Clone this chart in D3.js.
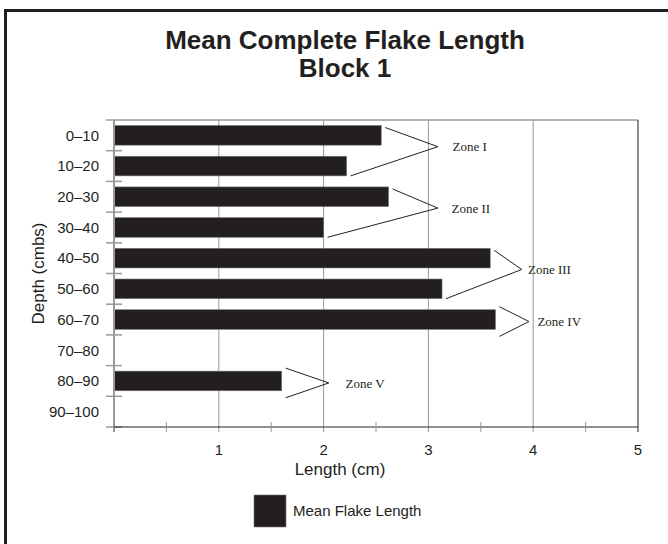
<!DOCTYPE html>
<html>
<head>
<meta charset="utf-8">
<script src="https://cdn.jsdelivr.net/npm/d3@7"></script>
<style>
  body { margin: 0; background: #fff; }
  text { font-family: "Liberation Sans", Arial, sans-serif; fill: #231f20; }
</style>
</head>
<body>
<div id="canvas"></div>
<script>
const depths = ["0–10", "10–20", "20–30", "30–40", "40–50", "50–60", "60–70", "70–80", "80–90", "90–100"];
const meanLength = [2.55, 2.22, 2.62, 2.00, 3.59, 3.13, 3.64, null, 1.60, null];
const xTicks = [1, 2, 3, 4, 5];
const minorTicks = [0.5, 1.5, 2.5, 3.5, 4.5];
const zoneNames = ["Zone I", "Zone II", "Zone III", "Zone IV", "Zone V"];
const zoneFrom = ["0–10", "20–30", "40–50", "60–70", "80–90"];
const zoneTo = ["10–20", "30–40", "50–60", "60–70", "80–90"];
const zoneTip = [3.09, 3.09, 3.89, 3.96, 2.05];
const zoneLabelX = [3.23, 3.22, 3.95, 4.04, 2.21];

const width = 668;
const height = 544;
const margin = { top: 120, left: 114, bottom: 117, right: 30 };

const svg = d3.select("#canvas").append("svg")
    .attr("width", width)
    .attr("height", height);

// outer frame, runs off the right and bottom edge
svg.append("rect")
    .attr("x", 5.5).attr("y", 10.5)
    .attr("width", width + 20).attr("height", height + 20)
    .attr("fill", "none")
    .attr("stroke", "#231f20")
    .attr("stroke-width", 3);

svg.append("text")
    .attr("x", 345).attr("y", 49)
    .attr("text-anchor", "middle")
    .style("font-size", "26px").style("font-weight", "bold")
    .text("Mean Complete Flake Length");
svg.append("text")
    .attr("x", 345).attr("y", 77)
    .attr("text-anchor", "middle")
    .style("font-size", "26px").style("font-weight", "bold")
    .text("Block 1");

const x = d3.scaleLinear()
    .domain([0, 5])
    .range([margin.left, width - margin.right]);
const y = d3.scaleBand()
    .domain(depths)
    .range([margin.top, height - margin.bottom])
    .paddingInner(0.36)
    .paddingOuter(0.18);

const plotTop = margin.top;
const plotBottom = height - margin.bottom;
const pad = y.step() * y.paddingInner() / 2;

// grid lines
svg.append("g").selectAll("line").data(xTicks.slice(0, -1)).join("line")
    .attr("x1", d => x(d)).attr("x2", d => x(d))
    .attr("y1", plotTop).attr("y2", plotBottom + 5)
    .attr("stroke", "#999").attr("stroke-width", 1);
svg.append("line")
    .attr("x1", x(0) - 8).attr("x2", x(5))
    .attr("y1", plotTop).attr("y2", plotTop)
    .attr("stroke", "#999").attr("stroke-width", 1.5);
svg.append("line")
    .attr("x1", x(5)).attr("x2", x(5))
    .attr("y1", plotTop).attr("y2", plotBottom + 5)
    .attr("stroke", "#231f20").attr("stroke-width", 1);

// bars
svg.append("g").selectAll("rect")
    .data(depths.map((d, i) => ({ depth: d, value: meanLength[i] })).filter(d => d.value != null))
    .join("rect")
    .attr("x", x(0))
    .attr("y", d => y(d.depth))
    .attr("width", d => x(d.value) - x(0))
    .attr("height", y.bandwidth())
    .attr("fill", "#231f20")
    .attr("stroke", "#777")
    .attr("stroke-width", 0.6);

// y axis: ticks at band edges
const yAxis = svg.append("g");
yAxis.append("line")
    .attr("x1", x(0)).attr("x2", x(0))
    .attr("y1", plotTop).attr("y2", plotBottom + 5)
    .attr("stroke", "#999").attr("stroke-width", 2);
yAxis.selectAll("line.tick").data(depths.slice(1)).join("line")
    .attr("class", "tick")
    .attr("x1", x(0) - 8).attr("x2", x(0) + 8)
    .attr("y1", d => y(d) - pad).attr("y2", d => y(d) - pad)
    .attr("stroke", "#999").attr("stroke-width", 1.5);
yAxis.append("line")
    .attr("x1", x(0) - 8).attr("x2", x(0) + 8)
    .attr("y1", plotBottom).attr("y2", plotBottom)
    .attr("stroke", "#999").attr("stroke-width", 1.5);
yAxis.selectAll("text").data(depths).join("text")
    .attr("x", x(0) - 15)
    .attr("y", d => y(d) + y.bandwidth() / 2)
    .attr("dy", "0.35em")
    .attr("text-anchor", "end")
    .style("font-size", "15px")
    .text(d => d);

svg.append("text")
    .attr("transform", `translate(44,${(plotTop + plotBottom) / 2}) rotate(-90)`)
    .attr("text-anchor", "middle")
    .style("font-size", "17px")
    .text("Depth (cmbs)");

// x axis
const xAxis = svg.append("g");
xAxis.append("line")
    .attr("x1", x(0)).attr("x2", x(5))
    .attr("y1", plotBottom).attr("y2", plotBottom)
    .attr("stroke", "#231f20").attr("stroke-width", 1.2);
xAxis.selectAll("line.minor").data(minorTicks).join("line")
    .attr("class", "minor")
    .attr("x1", d => x(d)).attr("x2", d => x(d))
    .attr("y1", plotBottom - 5).attr("y2", plotBottom + 5)
    .attr("stroke", "#999");
xAxis.selectAll("text").data(xTicks).join("text")
    .attr("x", d => x(d))
    .attr("y", plotBottom + 28)
    .attr("text-anchor", "middle")
    .style("font-size", "15px")
    .text(d => d);

svg.append("text")
    .attr("x", 340).attr("y", plotBottom + 48)
    .attr("text-anchor", "middle")
    .style("font-size", "17px")
    .text("Length (cm)");

// zone brackets
const zoneG = svg.append("g");
zoneNames.forEach((name, i) => {
    const a = meanLength[depths.indexOf(zoneFrom[i])];
    const b = meanLength[depths.indexOf(zoneTo[i])];
    const single = zoneFrom[i] === zoneTo[i];
    const y1 = y(zoneFrom[i]) + (single ? -3 : 2);
    const y2 = y(zoneTo[i]) + y.bandwidth() + (single ? 7 : 0);
    const ty = (y1 + y2) / 2 - (single ? 0 : 5);
    const tx = x(zoneTip[i]);
    zoneG.append("path")
        .attr("d", `M${x(a) + 4},${y1}L${tx},${ty}L${x(b) + 4},${y2}`)
        .attr("fill", "none")
        .attr("stroke", "#231f20")
        .attr("stroke-width", 1);
    zoneG.append("text")
        .attr("x", x(zoneLabelX[i]))
        .attr("y", ty)
        .attr("dy", "0.35em")
        .style("font-family", "'Liberation Serif', 'Times New Roman', serif")
        .style("font-size", "13px")
        .text(name);
});

// legend
svg.append("rect")
    .attr("x", 254).attr("y", 495)
    .attr("width", 32).attr("height", 32)
    .attr("fill", "#231f20")
    .attr("stroke", "#777").attr("stroke-width", 0.6);
svg.append("text")
    .attr("x", 293).attr("y", 511)
    .attr("dy", "0.35em")
    .style("font-size", "15px")
    .text("Mean Flake Length");
</script>
</body>
</html>
